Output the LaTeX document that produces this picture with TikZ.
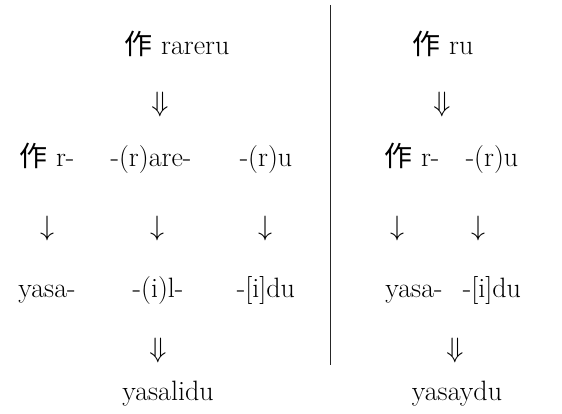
\RequirePackage{fix-cm}
\documentclass[tikz,border=0pt]{standalone}
\usepackage{fontspec}
\newfontfamily\cjk{Noto Sans CJK JP}
\newcommand{\zuo}{{\cjk 作}}
\begin{document}
\begin{tikzpicture}[x=1pt,y=-1pt,
  every node/.style={font=\fontsize{28}{32}\selectfont, inner sep=0pt},
  word/.style={anchor=base},
  darrow/.style={anchor=center},
  divider/.style={line width=1pt, draw=black!85}]
\useasboundingbox (0,0) rectangle (562,414);
% left side
\node[word] (tl) at (177,55) {\zuo\ rareru};
\node[darrow] (dl1) at (160,105) {$\Downarrow$};
\node[word] (a1) at (47,167) {\zuo\ r-};
\node[word] (a2) at (151,167) {-(r)are-};
\node[word] (a3) at (266,167) {-(r)u};
\node[darrow] (da1) at (47,228) {$\downarrow$};
\node[darrow] (da2) at (157,228) {$\downarrow$};
\node[darrow] (da3) at (265,228) {$\downarrow$};
\node[word] (b1) at (47,297) {yasa-};
\node[word] (b2) at (158,297) {-(i)l-};
\node[word] (b3) at (266,297) {-[i]du};
\node[darrow] (dl2) at (158,350) {$\Downarrow$};
\node[word] (rl) at (168,400) {yasalidu};
% right side
\node[word] (tr) at (443,55) {\zuo\ ru};
\node[darrow] (dr1) at (442,105) {$\Downarrow$};
\node[word] (c1) at (412,167) {\zuo\ r-};
\node[word] (c2) at (492,167) {-(r)u};
\node[darrow] (dc1) at (397,228) {$\downarrow$};
\node[darrow] (dc2) at (478,228) {$\downarrow$};
\node[word] (e1) at (414,297) {yasa-};
\node[word] (e2) at (492,297) {-[i]du};
\node[darrow] (dr2) at (455,350) {$\Downarrow$};
\node[word] (rr) at (457,400) {yasaydu};
% divider
\coordinate (vtop) at (330,5);
\coordinate (vbot) at (330,365);
\draw[divider] (vtop) -- (vbot);
\end{tikzpicture}
\end{document}
